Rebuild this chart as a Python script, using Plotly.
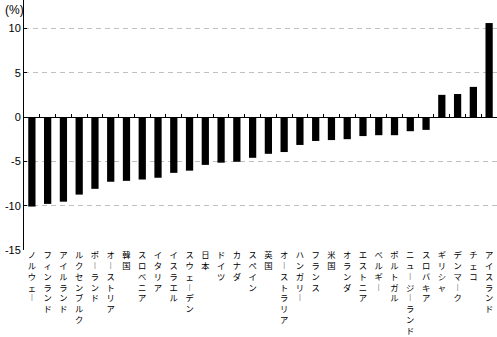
import plotly.graph_objects as go

# Country names (sorted by value) and the change in %
countries = [
    "ノルウェー", "フィンランド", "アイルランド", "ルクセンブルク", "ポーランド",
    "オーストリア", "韓国", "スロベニア", "イタリア", "イスラエル",
    "スウェーデン", "日本", "ドイツ", "カナダ", "スペイン",
    "英国", "オーストラリア", "ハンガリー", "フランス", "米国",
    "オランダ", "エストニア", "ベルギー", "ポルトガル", "ニュージーランド",
    "スロバキア", "ギリシャ", "デンマーク", "チェコ", "アイスランド",
]
values = [
    -10.1, -9.8, -9.55, -8.75, -8.1,
    -7.3, -7.2, -7.05, -6.85, -6.3,
    -6.05, -5.4, -5.15, -5.05, -4.6,
    -4.15, -3.95, -3.15, -2.7, -2.6,
    -2.5, -2.15, -2.05, -2.05, -1.6,
    -1.45, 2.5, 2.6, 3.4, 10.6,
]
y_ticks = [-15, -10, -5, 0, 5, 10]

Y_MIN, Y_MAX = -15, 13.2
n = len(countries)


def vertical(label):
    # stack characters top-to-bottom; the long vowel mark takes its vertical form
    return "<br>".join("︱" if ch == "ー" else ch for ch in label)


fig = go.Figure()
fig.add_trace(go.Bar(
    x=countries, y=values,
    marker=dict(color="black", line=dict(width=0)),
    hoverinfo="skip",
))
# invisible companion trace that carries the category axis drawn at zero
fig.add_trace(go.Scatter(
    x=countries, y=values, xaxis="x2", mode="markers",
    marker=dict(opacity=0), hoverinfo="skip", showlegend=False,
))

fig.update_layout(
    width=497, height=337,
    margin=dict(l=24, r=0, t=0, b=87),
    plot_bgcolor="white", paper_bgcolor="white",
    showlegend=False,
    bargap=0.54,
    font=dict(family="Liberation Sans, Arial, sans-serif", size=11, color="black"),
    xaxis=dict(
        type="category",
        categoryorder="array", categoryarray=countries,
        tickmode="array", tickvals=countries,
        ticktext=[vertical(c) for c in countries],
        tickangle=0,
        range=[-0.5, n - 0.5],
        showline=False, showgrid=False, zeroline=False,
        ticks="",
        automargin=False,
        ticklabelstandoff=-1,
        tickfont=dict(family="Noto Sans CJK JP", size=8.3, color="black"),
    ),
    xaxis2=dict(
        type="category",
        categoryorder="array", categoryarray=countries,
        overlaying="x", anchor="free",
        position=(0 - Y_MIN) / (Y_MAX - Y_MIN),
        side="bottom",
        range=[-0.5, n - 0.5],
        showline=True, linecolor="black", linewidth=1,
        ticks="inside", tickson="boundaries", ticklen=3,
        tickcolor="black", tickwidth=1,
        showticklabels=False, showgrid=False, zeroline=False,
        automargin=False,
    ),
    yaxis=dict(
        range=[Y_MIN, Y_MAX],
        tickmode="array", tickvals=y_ticks,
        ticktext=[str(v) for v in y_ticks],
        showline=True, linecolor="black", linewidth=1,
        ticks="inside", ticklen=3, tickcolor="black",
        showgrid=True, gridcolor="#c0c0c0", gridwidth=1,
        griddash="5px,4px",
        zeroline=False,
        automargin=False,
        tickfont=dict(size=11),
    ),
)

fig.add_annotation(
    text="(%)", xref="paper", yref="paper", x=0, y=1,
    xanchor="right", yanchor="top", xshift=2, yshift=-1,
    showarrow=False,
    font=dict(family="Liberation Sans, Arial, sans-serif", size=12, color="black"),
)

fig.write_html("out.html")
